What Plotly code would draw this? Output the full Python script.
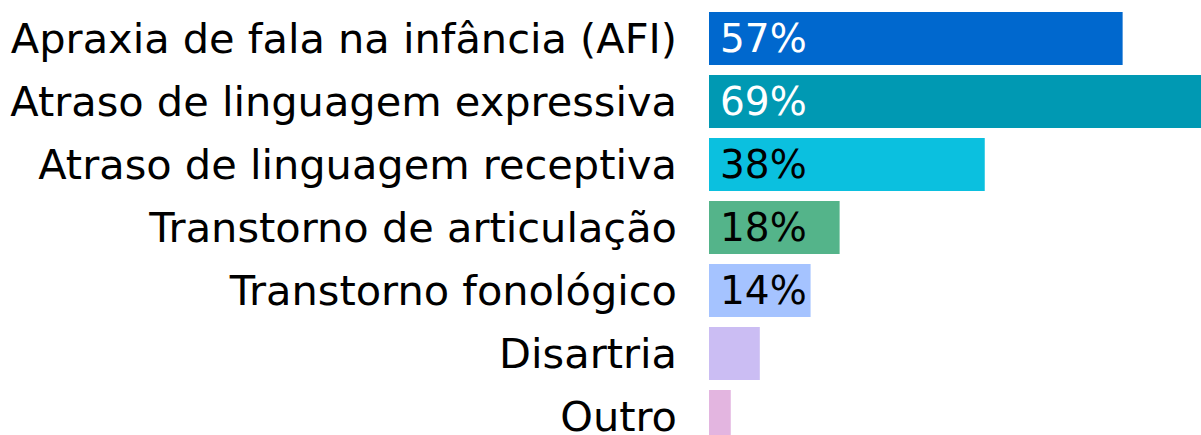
import plotly.graph_objects as go

categories = [
    "Apraxia de fala na infância (AFI)",
    "Atraso de linguagem expressiva",
    "Atraso de linguagem receptiva",
    "Transtorno de articulação",
    "Transtorno fonológico",
    "Disartria",
    "Outro",
]
values = [57, 69, 38, 18, 14, 7, 3]
labels = ["57%", "69%", "38%", "18%", "14%", "", ""]
colors = ["#0068CE", "#0099B3", "#0BC0DF", "#54B48A", "#A5C3FF", "#CBBDF3", "#E3B5E0"]
label_colors = ["#FFFFFF", "#FFFFFF", "#000000", "#000000", "#000000", "#000000", "#000000"]

FONT = "DejaVu Sans"
SIZE = 41.5
BAR_SIZE = 39

fig = go.Figure(
    go.Bar(
        x=values,
        y=categories,
        orientation="h",
        marker=dict(color=colors, line=dict(width=0)),
        hoverinfo="skip",
    )
)

for cat, lab, col in zip(categories, labels, label_colors):
    if lab:
        fig.add_annotation(
            x=0, y=cat, text=lab, showarrow=False,
            xanchor="left", yanchor="middle", xshift=9,
            font=dict(family=FONT, size=BAR_SIZE, color=col),
        )

fig.update_layout(
    width=1201, height=435,
    margin=dict(l=709, r=0, t=7, b=0, autoexpand=False),
    paper_bgcolor="white", plot_bgcolor="white",
    bargap=0.16,
    showlegend=False,
    font=dict(family=FONT, size=SIZE, color="black"),
)
fig.update_xaxes(range=[0, 67.8], visible=False, fixedrange=True, automargin=False)
fig.update_yaxes(
    range=[6.294, -0.5], showgrid=False, showline=False, ticks="", automargin=False,
    ticklabelstandoff=31, tickfont=dict(family=FONT, size=SIZE, color="black"),
)

fig.write_html(
    "out.html",
    config={"displayModeBar": False},
    post_script="document.body.style.margin='0';document.body.style.overflow='hidden';",
)
